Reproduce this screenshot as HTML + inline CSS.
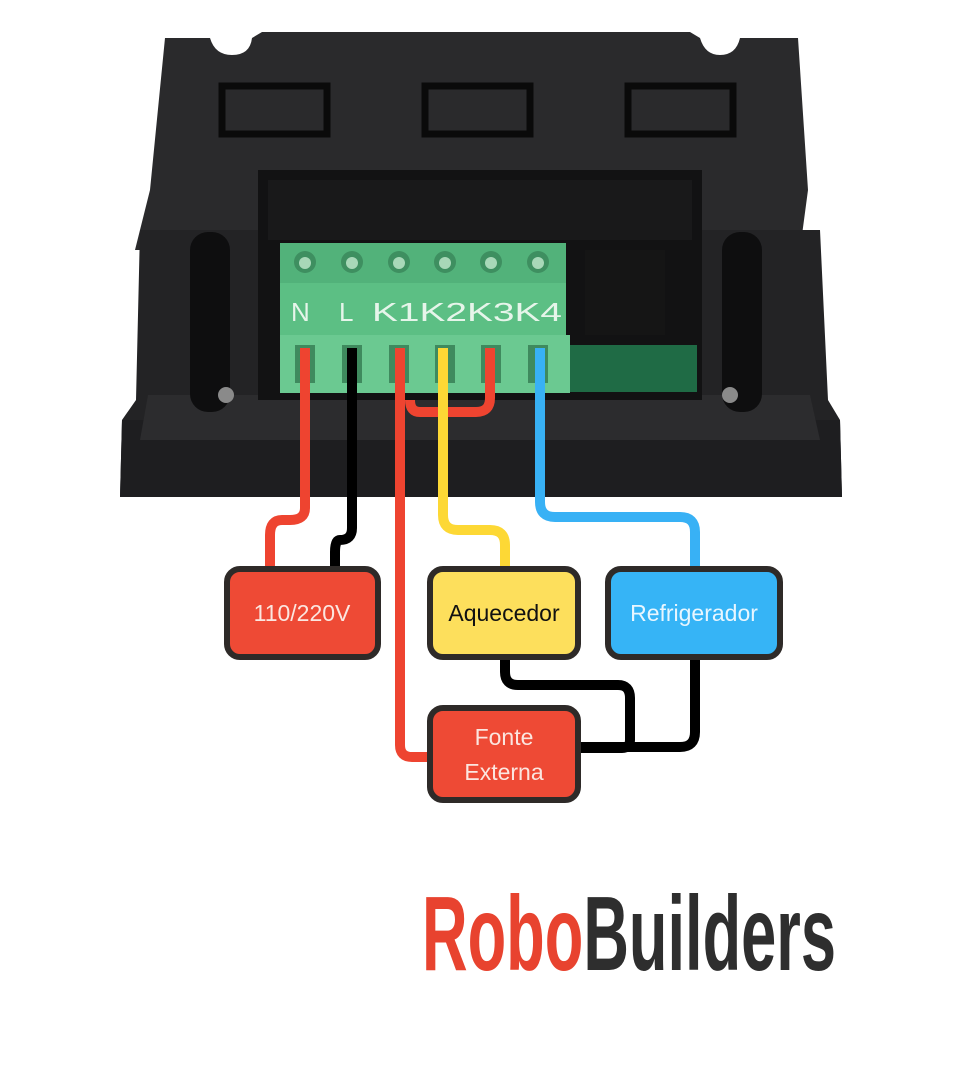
<!DOCTYPE html>
<html><head><meta charset="utf-8"><style>
html,body{margin:0;padding:0;background:#fff;}
svg{display:block}
text{font-family:"Liberation Sans",sans-serif}
</style></head><body>
<svg width="960" height="1080" viewBox="0 0 960 1080" xmlns="http://www.w3.org/2000/svg">
<rect width="960" height="1080" fill="#fff"/>
<!-- device body -->
<path d="M165 38 L210 38 Q215 55 232 55 Q250 55 252 38 L262 32 L690 32 L700 38 Q705 55 720 55 Q736 55 740 38 L798 38 L808 190 L800 250 L135 250 L150 190 Z" fill="#2a2a2c"/>
<path d="M140 230 L820 230 L828 400 L840 420 L842 497 L120 497 L122 420 L136 400 Z" fill="#232325"/>
<path d="M122 420 L840 420 L842 497 L120 497 Z" fill="#1e1e20"/>
<path d="M148 395 L810 395 L820 440 L140 440 Z" fill="#2c2c2e"/>
<!-- vents -->
<g fill="none" stroke="#0a0a0a" stroke-width="7">
<rect x="222" y="86" width="105" height="48"/>
<rect x="425" y="86" width="105" height="48"/>
<rect x="628" y="86" width="105" height="48"/>
</g>
<!-- recess -->
<rect x="258" y="170" width="444" height="230" fill="#121213"/>
<rect x="268" y="180" width="424" height="60" fill="#19191a"/>
<!-- side slots -->
<rect x="190" y="232" width="40" height="180" rx="18" fill="#0e0e0f"/>
<rect x="722" y="232" width="40" height="180" rx="18" fill="#0e0e0f"/>
<circle cx="226" cy="395" r="8" fill="#8a8a8a"/>
<circle cx="730" cy="395" r="8" fill="#8a8a8a"/>
<!-- pcb -->
<rect x="565" y="345" width="132" height="47" fill="#1f6b45"/>
<rect x="585" y="250" width="80" height="85" fill="#151515"/>
<!-- terminal block -->
<rect x="280" y="243" width="286" height="150" fill="#5cbf84"/>
<rect x="280" y="243" width="286" height="40" fill="#52b27a"/>
<rect x="280" y="335" width="290" height="58" fill="#6bc991"/>
<g fill="#3e8f60">
<circle cx="305" cy="262" r="11"/><circle cx="352" cy="262" r="11"/><circle cx="399" cy="262" r="11"/>
<circle cx="445" cy="262" r="11"/><circle cx="491" cy="262" r="11"/><circle cx="538" cy="262" r="11"/>
</g>
<g fill="#a8d8b8">
<circle cx="305" cy="263" r="6"/><circle cx="352" cy="263" r="6"/><circle cx="399" cy="263" r="6"/>
<circle cx="445" cy="263" r="6"/><circle cx="491" cy="263" r="6"/><circle cx="538" cy="263" r="6"/>
</g>
<g fill="#3f8a5e">
<rect x="295" y="345" width="20" height="38"/><rect x="342" y="345" width="20" height="38"/><rect x="389" y="345" width="20" height="38"/>
<rect x="435" y="345" width="20" height="38"/><rect x="481" y="345" width="20" height="38"/><rect x="528" y="345" width="20" height="38"/>
</g>
<text x="291" y="321" font-size="26" fill="#e6f5ea">N</text>
<text x="339" y="321" font-size="26" fill="#e6f5ea">L</text>
<text x="372" y="321" font-size="26" fill="#e6f5ea" textLength="190" lengthAdjust="spacingAndGlyphs">K1K2K3K4</text>
<!-- wires -->
<g fill="none" stroke-width="10" stroke-linejoin="round" stroke-linecap="butt">
<path d="M305 348 V508 Q305 520 290 520 H282 Q270 520 270 535 V570" stroke="#ee4430"/>
<path d="M352 348 V528 Q352 540 340 540 Q335 540 335 552 V570" stroke="#000"/>
<path d="M400 348 V745 Q400 757 412 757 H432" stroke="#ee4430"/>
<path d="M490 348 V398 Q490 412 476 412 H420 Q410 412 410 400" stroke="#ee4430"/>
<path d="M443 348 V515 Q443 530 458 530 H490 Q505 530 505 545 V570" stroke="#fdd835"/>
<path d="M540 348 V502 Q540 517 555 517 H680 Q695 517 695 532 V570" stroke="#38b1f5"/>
<path d="M505 655 V672 Q505 685 518 685 H618 Q630 685 630 698 V740 Q630 748 622 748 H578" stroke="#000"/>
<path d="M695 655 V732 Q695 747 680 747 H578" stroke="#000"/>
</g>
<!-- boxes -->
<g stroke="#2e2a28" stroke-width="6">
<rect x="227" y="569" width="151" height="88" rx="13" fill="#ee4a35"/>
<rect x="430" y="569" width="148" height="88" rx="13" fill="#fddf5c"/>
<rect x="608" y="569" width="172" height="88" rx="13" fill="#36b4f6"/>
<rect x="430" y="708" width="148" height="92" rx="13" fill="#ee4a35"/>
</g>
<g font-size="23" text-anchor="middle">
<text x="302" y="621" fill="#fbe6e0">110/220V</text>
<text x="504" y="621" fill="#111">Aquecedor</text>
<text x="694" y="621" fill="#e8f6ff">Refrigerador</text>
<text x="504" y="745" fill="#fbe6e0">Fonte</text>
<text x="504" y="780" fill="#fbe6e0">Externa</text>
</g>
<!-- logo -->
<text x="422" y="970" font-size="106" font-weight="bold" textLength="414" lengthAdjust="spacingAndGlyphs" style="font-family:'Liberation Sans Narrow','Liberation Sans',sans-serif"><tspan fill="#e8432f">Robo</tspan><tspan fill="#2e2e2e">Builders</tspan></text>
</svg>
</body></html>
